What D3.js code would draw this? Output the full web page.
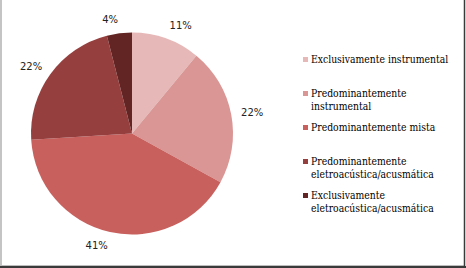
<!DOCTYPE html>
<html>
<head>
<meta charset="utf-8">
<script src="https://cdn.jsdelivr.net/npm/d3@7"></script>
<style>
  html, body { margin: 0; padding: 0; background: #fff; }
  svg { display: block; }
</style>
</head>
<body>
<svg id="chart" width="466" height="268"></svg>
<script>
const categories = [
    'Exclusivamente instrumental',
    'Predominantemente instrumental',
    'Predominantemente mista',
    'Predominantemente eletroacústica/acusmática',
    'Exclusivamente eletroacústica/acusmática'
]
const values = [11, 22, 41, 22, 4]
// linhas da legenda como o Excel quebrou
const legendLines = [
    ['Exclusivamente instrumental'],
    ['Predominantemente', 'instrumental'],
    ['Predominantemente mista'],
    ['Predominantemente', 'eletroacústica/acusmática'],
    ['Exclusivamente', 'eletroacústica/acusmática']
]
const colors = ['#e6b9b8', '#d99694', '#c8605d', '#953f3e', '#632523']

const svg = d3.select('#chart')

// moldura
svg.append('line').attr('x1', 1).attr('y1', 0).attr('x2', 1).attr('y2', 266)
    .attr('stroke', '#c4c4c4').attr('stroke-width', 2)
svg.append('line').attr('x1', 0).attr('y1', 265.5).attr('x2', 464).attr('y2', 265.5)
    .attr('stroke', '#bdbdbd').attr('stroke-width', 1)
svg.append('line').attr('x1', 0).attr('y1', 267).attr('x2', 466).attr('y2', 267)
    .attr('stroke', '#3a3a3a').attr('stroke-width', 2)
svg.append('line').attr('x1', 464.5).attr('y1', 0).attr('x2', 464.5).attr('y2', 268)
    .attr('stroke', '#3a3a3a').attr('stroke-width', 1.5)

const cx = 132, cy = 133.5, r = 101

const pie = d3.pie().sort(null).value(d => d)
const arcs = pie(values)
const arc = d3.arc().innerRadius(0).outerRadius(r)
const labelArc = d3.arc().innerRadius(r + 10).outerRadius(r + 10)

const g = svg.append('g').attr('transform', `translate(${cx},${cy})`)

g.selectAll('path.slice')
    .data(arcs)
    .enter().append('path')
    .attr('class', 'slice')
    .attr('d', arc)
    .attr('fill', (d, i) => colors[i])

g.selectAll('text.pct')
    .data(arcs)
    .enter().append('text')
    .attr('class', 'pct')
    .each(function (d) {
        const [x, y] = labelArc.centroid(d)
        const a = (d.startAngle + d.endAngle) / 2
        const s = Math.sin(a), c = Math.cos(a)
        const anchor = s > 0.1 ? 'start' : (s < -0.1 ? 'end' : 'middle')
        d3.select(this)
            .attr('x', x)
            .attr('y', y + (1 - c) * 3.5)
            .attr('text-anchor', anchor)
    })
    .attr('font-family', 'DejaVu Sans, Verdana, sans-serif')
    .attr('font-size', '10px')
    .attr('fill', '#222')
    .text(d => d.data + '%')

// legenda
const legend = svg.append('g')
const y0 = 59.5, step = 34
categories.forEach((cat, i) => {
    const y = y0 + i * step
    legend.append('rect')
        .attr('x', 303).attr('y', y - 2.5)
        .attr('width', 5).attr('height', 5)
        .attr('fill', colors[i])
    const t = legend.append('text')
        .attr('x', 311).attr('y', y + 3.5)
        .attr('font-family', 'DejaVu Serif, serif')
        .attr('font-size', '10.3px')
        .attr('font-stretch', 'condensed')
        .attr('fill', '#000')
    legendLines[i].forEach((ln, j) => {
        t.append('tspan').attr('x', 311).attr('dy', j === 0 ? 0 : 13).text(ln)
    })
})
</script>
</body>
</html>
